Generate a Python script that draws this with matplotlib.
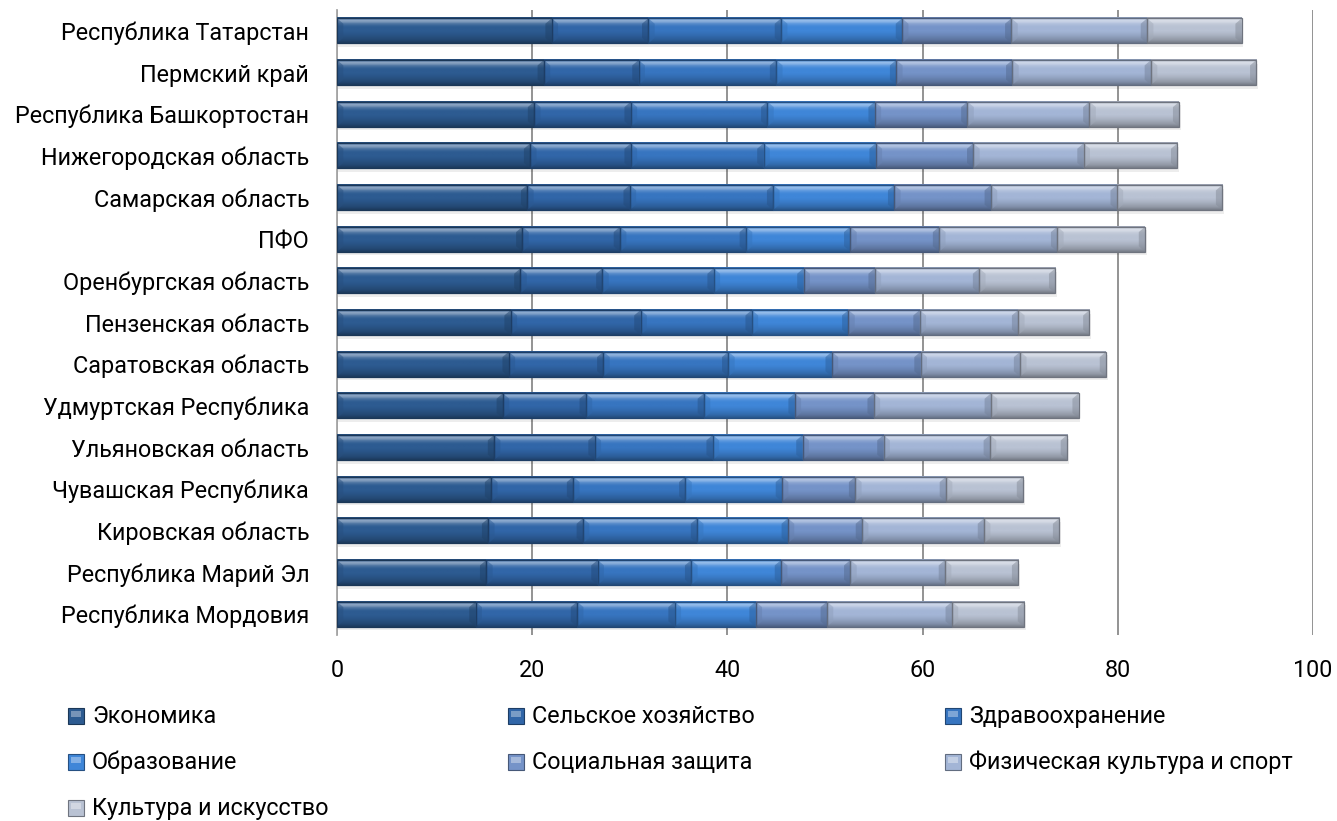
import numpy as np
import matplotlib
matplotlib.use('Agg')
from matplotlib import pyplot as plt
from matplotlib.patches import Polygon, Rectangle
from matplotlib.colors import to_rgb

plt.rcParams['font.family'] = ['Roboto', 'DejaVu Sans']

regions = ['Республика Татарстан', 'Пермский край', 'Республика Башкортостан',
           'Нижегородская область', 'Самарская область', 'ПФО',
           'Оренбургская область', 'Пензенская область', 'Саратовская область',
           'Удмуртская Республика', 'Ульяновская область', 'Чувашская Республика',
           'Кировская область', 'Республика Марий Эл', 'Республика Мордовия']

series_names = ['Экономика', 'Сельское хозяйство', 'Здравоохранение', 'Образование',
                'Социальная защита', 'Физическая культура и спорт', 'Культура и искусство']

ekonomika = [22.0, 21.2, 20.2, 19.8, 19.5, 19.0, 18.8, 17.8, 17.6, 17.0, 16.1, 15.8, 15.5, 15.3, 14.2]
selskoe   = [9.9, 9.7, 9.9, 10.3, 10.5, 10.0, 8.4, 13.3, 9.7, 8.5, 10.3, 8.4, 9.7, 11.4, 10.4]
zdrav     = [13.6, 14.1, 14.0, 13.6, 14.7, 12.9, 11.4, 11.4, 12.8, 12.1, 12.1, 11.5, 11.7, 9.6, 10.0]
obraz     = [12.4, 12.3, 11.0, 11.5, 12.4, 10.7, 9.2, 9.9, 10.6, 9.3, 9.2, 9.9, 9.3, 9.2, 8.3]
soc       = [11.2, 11.9, 9.5, 10.0, 9.9, 9.1, 7.3, 7.3, 9.1, 8.1, 8.3, 7.5, 7.6, 7.1, 7.3]
fiz       = [13.9, 14.2, 12.5, 11.3, 12.9, 12.1, 10.7, 10.1, 10.2, 12.0, 10.9, 9.3, 12.5, 9.7, 12.8]
kult      = [9.7, 10.8, 9.2, 9.6, 10.8, 9.0, 7.8, 7.3, 8.8, 9.0, 7.9, 7.9, 7.7, 7.5, 7.4]

colors = ['#2d5b91', '#3166a8', '#3775c0', '#3f86d8', '#7593c8', '#a3b5d6', '#b9c2d3']

data = [ekonomika, selskoe, zdrav, obraz, soc, fiz, kult]


def shade(c, f):
    # f > 0 -> towards white, f < 0 -> towards black
    c = np.array(to_rgb(c))
    if f >= 0:
        return c + (1 - c) * f
    return c * (1 + f)


# vertical profile of the bevelled bar, top to bottom
profile = [-0.15, 0.30, 0.45, 0.35, 0.18, 0.08, 0.02, 0.0, 0.0, 0.0,
           -0.02, -0.05, -0.08, -0.12, -0.16, -0.20, -0.26, -0.34]

fig = plt.figure(figsize=(13.37, 8.21), dpi=100)
ax = fig.add_axes([0.25206, 0.22655, 0.72999, 0.76127])

y = np.arange(len(regions))
h = 0.6
bx = 0.65   # horizontal bevel size (data units)
by = 0.13   # vertical bevel size

left = np.zeros(len(regions))
for vals, col in zip(data, colors):
    vals = np.array(vals)
    # soft shadow below the bar
    ax.barh(y + 0.09, vals, height=h, left=left + 0.15, color='k', alpha=0.07,
            linewidth=0, zorder=2)
    bars = ax.barh(y, vals, height=h, left=left, color=col, linewidth=0, zorder=3)
    for b in bars:
        x0, w = b.get_x(), b.get_width()
        x1 = x0 + w
        top, bot = b.get_y(), b.get_y() + b.get_height()   # y axis inverted later
        img = np.array([[shade(col, f)] for f in profile])
        ax.imshow(img, extent=(x0, x1, bot, top), origin='upper', aspect='auto',
                  interpolation='bilinear', zorder=4)
        # side bevels
        ax.add_patch(Polygon([(x0, top), (x0 + bx, top + by), (x0 + bx, bot - by), (x0, bot)],
                             closed=True, facecolor=shade(col, -0.12), alpha=0.5,
                             linewidth=0, zorder=5))
        ax.add_patch(Polygon([(x1, top), (x1 - bx, top + by), (x1 - bx, bot - by), (x1, bot)],
                             closed=True, facecolor=shade(col, -0.28), alpha=0.5,
                             linewidth=0, zorder=5))
        ax.add_patch(Rectangle((x0, top), w, bot - top, fill=False,
                               edgecolor=shade(col, -0.4), linewidth=0.9, zorder=6))
    left = left + vals

ax.set_xlim(0, 100)
ax.set_ylim(len(regions) - 0.5, -0.5)
ax.set_xticks(np.arange(0, 101, 20))
ax.set_yticks(y)
ax.set_yticklabels(regions)
ax.tick_params(axis='y', length=0, pad=20, labelsize=16.8)
ax.tick_params(axis='x', length=0, pad=17, labelsize=16.8)
ax.grid(axis='x', color='#8a8a8a', linewidth=1.3, zorder=0)
ax.set_axisbelow(True)
for s in ['top', 'right', 'bottom']:
    ax.spines[s].set_visible(False)
ax.spines['left'].set_color('#a6a6a6')
ax.spines['left'].set_linewidth(1.3)
ax.spines['left'].set_zorder(1)

# legend laid out in rows of three
col_x = [68, 508, 945]
row_y = [716, 762, 808]
W, H = 1337.0, 821.0
for i, (name, col) in enumerate(zip(series_names, colors)):
    r, c = divmod(i, 3)
    mx = col_x[c] / W
    my = 1 - (row_y[r] + 8) / H
    sw, sh = 16 / W, 16 / H
    fig.patches.append(Rectangle((mx, my), sw, sh, transform=fig.transFigure,
                                 facecolor=col, edgecolor=shade(col, -0.4),
                                 linewidth=0.8))
    fig.patches.append(Rectangle((mx + sw * 0.2, my + sh * 0.45), sw * 0.6, sh * 0.35,
                                 transform=fig.transFigure,
                                 facecolor=shade(col, 0.35), linewidth=0))
    fig.text(mx + 24 / W, 1 - row_y[r] / H, name, fontsize=16.8, va='center', ha='left')

fig.savefig('out.png', dpi=100)
